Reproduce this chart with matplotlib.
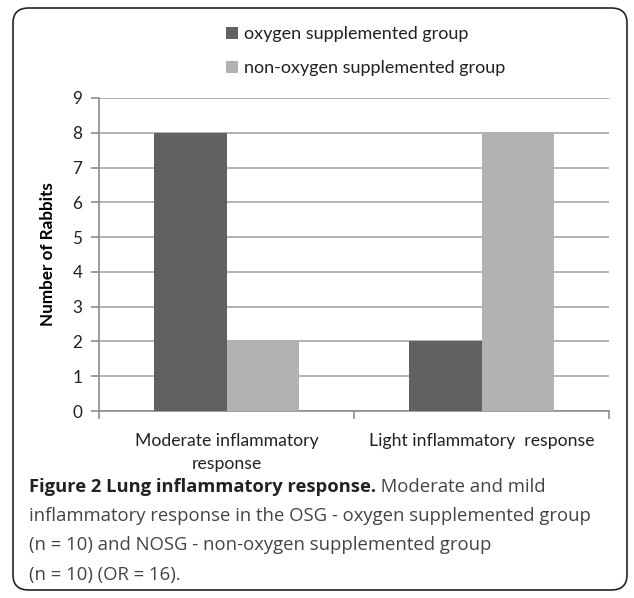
import matplotlib.pyplot as plt
from matplotlib.patches import FancyBboxPatch
import numpy as np

plt.rcParams['font.family'] = ['Lato', 'DejaVu Sans']

# Data
categories = ['Moderate inflammatory\nresponse', 'Light inflammatory  response']
osg = [8, 2]
nosg = [2, 8]
series_names = ['oxygen supplemented group', 'non-oxygen supplemented group']
dark = '#616161'
light = '#b2b2b2'

W, H = 634, 598
fig = plt.figure(figsize=(W / 100, H / 100), dpi=100)

# rounded frame
frame = FancyBboxPatch((13 / W, 8 / H), 614 / W, 582 / H,
                       boxstyle='round,pad=0,rounding_size=0.025',
                       transform=fig.transFigure, fill=False,
                       edgecolor='#222222', linewidth=1.2)
fig.patches.append(frame)

ax = fig.add_axes([99 / W, 1 - 411 / H, 510 / W, 313 / H])
x = np.arange(len(categories))
bw = 0.284
ax.bar(x - bw / 2, osg, bw, color=dark, label=series_names[0], zorder=3)
ax.bar(x + bw / 2, nosg, bw, color=light, label=series_names[1], zorder=3)

ax.set_xlim(-0.5, 1.5)
ax.set_ylim(0, 9)
ax.set_yticks(range(10))
ax.yaxis.grid(True, color='#a6a6a6', linewidth=1.2, zorder=0)
ax.set_xticks(x)
ax.set_xticklabels(categories, fontsize=12.7, color='#222222', linespacing=1.55)
ax.tick_params(axis='x', which='major', length=0, pad=16)
ax.set_xticks([-0.5, 0.5, 1.5], minor=True)
ax.tick_params(axis='x', which='minor', length=6, color='#8c8c8c', width=1.2)
ax.tick_params(axis='y', length=6, color='#8c8c8c', width=1.2, labelsize=12.3,
               labelcolor='#222222', pad=6)
for s in ['top', 'right']:
    ax.spines[s].set_visible(False)
for s in ['left', 'bottom']:
    ax.spines[s].set_color('#8c8c8c')
    ax.spines[s].set_linewidth(1.2)
ax.set_ylabel('Number of Rabbits', fontsize=12.3, fontweight='bold', labelpad=12)

# legend
h, l = ax.get_legend_handles_labels()
fig.legend(h, l, loc='center left', bbox_to_anchor=(210 / W, 1 - 51 / H),
           frameon=False, fontsize=13, handlelength=0.65, handleheight=0.65,
           handletextpad=0.35, labelspacing=1.0, labelcolor='#222222')

# caption
cap_bold = 'Figure 2 Lung inflammatory response.'
cap_lines = [' Moderate and mild',
             'inflammatory response in the OSG - oxygen supplemented group',
             '(n = 10) and NOSG - non-oxygen supplemented group',
             '(n = 10) (OR = 16).']
cx = 29 / W
cy = [487, 516, 545, 575]
tb = fig.text(cx, 1 - cy[0] / H, cap_bold, fontsize=13.2, fontweight='bold',
              va='center', ha='left', color='#222222',
              family=['Open Sans', 'DejaVu Sans'])
fig.canvas.draw()
bb = tb.get_window_extent()
fig.text(bb.x1 / W, 1 - cy[0] / H, cap_lines[0], fontsize=13.3, va='center',
         ha='left', color='#444444', family=['Open Sans', 'DejaVu Sans'])
for yy, line in zip(cy[1:], cap_lines[1:]):
    fig.text(cx, 1 - yy / H, line, fontsize=13.3, va='center', ha='left',
             color='#444444', family=['Open Sans', 'DejaVu Sans'])

fig.savefig('out.png', dpi=100)
